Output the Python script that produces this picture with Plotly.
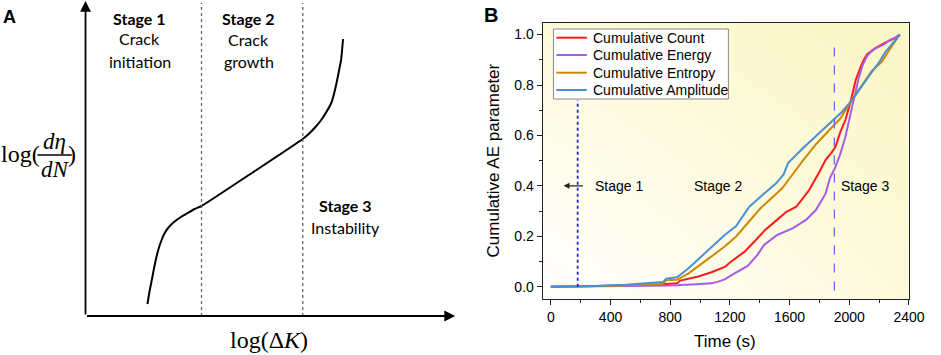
import plotly.graph_objects as go

# ---------------- Panel B data ----------------
count_t = [0, 300, 500, 700, 773, 846, 868, 989, 1077, 1165, 1209, 1297, 1363, 1436, 1502, 1579, 1645,
           1732, 1800, 1842, 1886, 1908, 1941, 1974, 2007, 2043, 2075, 2097, 2120, 2175, 2241, 2307, 2338]
count_v = [0, 0.002, 0.004, 0.007, 0.011, 0.013, 0.024, 0.040, 0.057, 0.078, 0.100, 0.138, 0.178, 0.225,
           0.258, 0.297, 0.317, 0.384, 0.456, 0.503, 0.536, 0.556, 0.615, 0.661, 0.729, 0.820, 0.870,
           0.900, 0.922, 0.946, 0.968, 0.986, 1.0]

energy_t = [0, 500, 800, 945, 1077, 1121, 1165, 1231, 1319, 1385, 1429, 1517, 1623, 1710, 1776, 1842,
            1870, 1908, 1941, 1974, 2007, 2033, 2064, 2090, 2119, 2142, 2175, 2230, 2270, 2307, 2338]
energy_v = [0, 0.002, 0.005, 0.009, 0.013, 0.020, 0.029, 0.053, 0.082, 0.126, 0.165, 0.205, 0.232, 0.265,
            0.304, 0.370, 0.430, 0.476, 0.529, 0.595, 0.688, 0.750, 0.830, 0.880, 0.915, 0.930, 0.945,
            0.960, 0.978, 0.988, 1.0]

entropy_t = [0, 300, 500, 750, 773, 846, 923, 1077, 1165, 1242, 1319, 1403, 1513, 1550, 1601, 1689, 1777,
             1864, 1941, 2011, 2060, 2109, 2150, 2219, 2280, 2338]
entropy_v = [0, 0.002, 0.005, 0.011, 0.025, 0.027, 0.053, 0.120, 0.159, 0.199, 0.254, 0.310, 0.370, 0.390,
             0.430, 0.500, 0.565, 0.620, 0.668, 0.735, 0.780, 0.820, 0.855, 0.893, 0.950, 1.0]

amp_t = [0, 300, 500, 751, 773, 846, 923, 989, 1077, 1165, 1242, 1330, 1420, 1510, 1560, 1590, 1689, 1798,
         1886, 1952, 2018, 2088, 2153, 2200, 2241, 2290, 2340]
amp_v = [0, 0.003, 0.008, 0.018, 0.032, 0.037, 0.073, 0.109, 0.156, 0.205, 0.240, 0.317, 0.365, 0.410,
         0.445, 0.490, 0.549, 0.609, 0.661, 0.694, 0.740, 0.800, 0.853, 0.890, 0.930, 0.965, 1.0]

series_names = ["Cumulative Count", "Cumulative Energy", "Cumulative Entropy", "Cumulative Amplitude"]
series_colors = ["#FF1A1A", "#A45EE5", "#CC8A00", "#4A90D2"]

stage_lines_t = [180, 1900]
stage_labels = ["Stage 1", "Stage 2", "Stage 3"]
stage_label_t = [459, 1117, 2105]
stage_label_v = 0.4

x_ticks = [0, 400, 800, 1200, 1600, 2000, 2400]
y_ticks = [0.0, 0.2, 0.4, 0.6, 0.8, 1.0]

# ---------------- Panel A schematic data (log ΔK vs log dη/dN, arbitrary units) ----------------
schem_x = [63, 65, 68, 71, 74, 77, 80, 84, 90, 97, 104, 111, 118, 170, 221, 227, 233, 239, 245, 250, 253,
           256, 258, 260, 261, 262]
schem_y = [12, 24, 39, 54, 66, 75, 82, 88, 94, 99, 103, 107, 110, 143.5, 177, 182, 188, 195, 204, 213,
           223, 236, 246, 256, 266, 277]
schem_bounds = [118, 221]

XR = [-55, 2400]
YR = [-0.049, 1.046]
W, H = 941, 355

fig = go.Figure()

# background gradient for panel B
fig.add_trace(go.Heatmap(
    x=XR, y=YR, z=[[0.0, 0.6], [0.6, 1.0]], zsmooth="best",
    colorscale=[[0, "#FFFFFF"], [1, "#FBF6C4"]], showscale=False, hoverinfo="skip",
    xaxis="x", yaxis="y"))

for t, v, n, c in zip([count_t, energy_t, entropy_t, amp_t], [count_v, energy_v, entropy_v, amp_v],
                      series_names, series_colors):
    fig.add_trace(go.Scatter(x=t, y=v, mode="lines", name=n, line=dict(color=c, width=2),
                             xaxis="x", yaxis="y", showlegend=False))

# Panel A curve
fig.add_trace(go.Scatter(x=schem_x, y=schem_y, mode="lines", line=dict(color="black", width=2, shape="spline",
                         smoothing=0.5), showlegend=False, xaxis="x2", yaxis="y2", hoverinfo="skip"))

shapes = []
# stage separators panel B
shapes.append(dict(type="line", xref="x", yref="y", x0=stage_lines_t[0], x1=stage_lines_t[0], y0=0.0, y1=0.74,
                   line=dict(color="#1F1FF0", width=1.8, dash="dot")))
shapes.append(dict(type="line", xref="x", yref="y", x0=stage_lines_t[1], x1=stage_lines_t[1], y0=-0.015, y1=0.97,
                   line=dict(color="#6A6AF0", width=1.3, dash="dash")))
# panel A dotted lines
for b in schem_bounds:
    shapes.append(dict(type="line", xref="x2", yref="y2", x0=b, x1=b, y0=0, y1=313,
                       line=dict(color="#666666", width=1.3, dash="dot")))

annotations = []
# panel A axes arrows
annotations.append(dict(xref="x2", yref="y2", axref="x2", ayref="y2", x=0, y=315, ax=0, ay=0, text="",
                        showarrow=True, arrowhead=2, arrowsize=1.2, arrowwidth=1.8, arrowcolor="black"))
annotations.append(dict(xref="x2", yref="y2", axref="x2", ayref="y2", x=376, y=0, ax=0, ay=0, text="",
                        showarrow=True, arrowhead=2, arrowsize=1.2, arrowwidth=1.8, arrowcolor="black"))

serif = "Liberation Serif, Times New Roman, serif"
calib = "Lato, Open Sans, sans-serif"
arial = "Liberation Sans, Arial, sans-serif"

def txt(x, y, s, size, fam, xref="paper", yref="paper", **kw):
    d = dict(x=x, y=y, xref=xref, yref=yref, text=s, showarrow=False,
             font=dict(size=size, family=fam, color="black"), xanchor="center", yanchor="middle")
    d.update(kw)
    annotations.append(d)

def px(xp, yp):
    return xp / W, 1 - yp / H

# panel A texts
txt(*px(10, 17), "<b>A</b>", 18, arial)
txt(*px(142, 18), "<b>Stage 1</b>", 16, calib)
txt(*px(142, 39), "Crack", 16, calib)
txt(*px(142, 61), "initiation", 16, calib)
txt(*px(253, 18), "<b>Stage 2</b>", 16, calib)
txt(*px(253, 40), "Crack", 16, calib)
txt(*px(253, 62), "growth", 16, calib)
txt(*px(351, 205), "<b>Stage 3</b>", 16, calib)
txt(*px(351, 227), "Instability", 16, calib)
txt(*px(21, 154), "log(", 24, serif)
txt(*px(55, 141), "<i>dη</i>", 23, serif)
txt(*px(56, 169), "<i>dN</i>", 23, serif)
txt(*px(73, 154), ")", 24, serif)
shapes.append(dict(type="line", xref="paper", yref="paper", x0=38 / W, x1=73 / W, y0=1 - 155 / H, y1=1 - 155 / H,
                   line=dict(color="black", width=1.3)))
txt(*px(274, 340), "log(Δ<i>K</i>)", 24, serif)

# panel B texts
txt(*px(500, 15), "<b>B</b>", 20, arial)
for s, t in zip(stage_labels, stage_label_t):
    txt(t, stage_label_v, s, 14, arial, xref="x", yref="y")
annotations.append(dict(xref="x", yref="y", axref="x", ayref="y", x=85, y=stage_label_v, ax=225,
                        ay=stage_label_v, text="", showarrow=True, arrowhead=2, arrowsize=1,
                        arrowwidth=1.2, arrowcolor="#222222"))
txt(*px(502, 160), "Cumulative AE parameter", 17, arial, textangle=-90)
txt(*px(738, 341), "Time (s)", 17, arial)

# legend box (drawn as a framed key)
shapes.append(dict(type="rect", xref="paper", yref="paper", x0=563 / W, x1=741 / W, y0=1 - 99 / H, y1=1 - 29 / H,
                   fillcolor="white", line=dict(color="#8A8A8A", width=1), layer="above"))
leg_y = [37.7, 55, 72.7, 90]
for n, c, yy in zip(series_names, series_colors, leg_y):
    shapes.append(dict(type="line", xref="paper", yref="paper", x0=566 / W, x1=597 / W, y0=1 - yy / H,
                       y1=1 - yy / H, line=dict(color=c, width=2), layer="above"))
    txt(601 / W, 1 - yy / H, n, 14, arial, xanchor="left")

fig.update_layout(
    width=W, height=H, margin=dict(l=0, r=0, t=0, b=0),
    paper_bgcolor="white", plot_bgcolor="white",
    font=dict(family=arial, size=14, color="black"),
    shapes=shapes, annotations=annotations,
    showlegend=False,
    xaxis=dict(domain=[552 / W, 924.7 / W], range=XR, tickvals=x_ticks, showline=True, linecolor="#222",
               linewidth=1, mirror=True, ticks="outside", ticklen=5, tickcolor="#222", showgrid=False,
               zeroline=False, tickfont=dict(size=14),
               minor=dict(ticks="outside", ticklen=3, dtick=200, tick0=0, tickcolor="#222", showgrid=False)),
    yaxis=dict(domain=[1 - 299 / H, 1 - 23 / H], range=YR, tickvals=y_ticks, tickformat=".1f", showline=True,
               linecolor="#222", linewidth=1, mirror=True, ticks="outside", ticklen=5, tickcolor="#222",
               showgrid=False, zeroline=False, tickfont=dict(size=14),
               minor=dict(ticks="outside", ticklen=3, dtick=0.1, tick0=0, tickcolor="#222", showgrid=False)),
    xaxis2=dict(domain=[0, 470 / W], range=[-87, 383], visible=False, fixedrange=True),
    yaxis2=dict(domain=[0, 1], range=[-39, 316], visible=False, fixedrange=True),
)

fig.write_html("out.html", config={"displayModeBar": False},
               post_script="document.body.style.margin='0';document.body.style.overflow='hidden';")
